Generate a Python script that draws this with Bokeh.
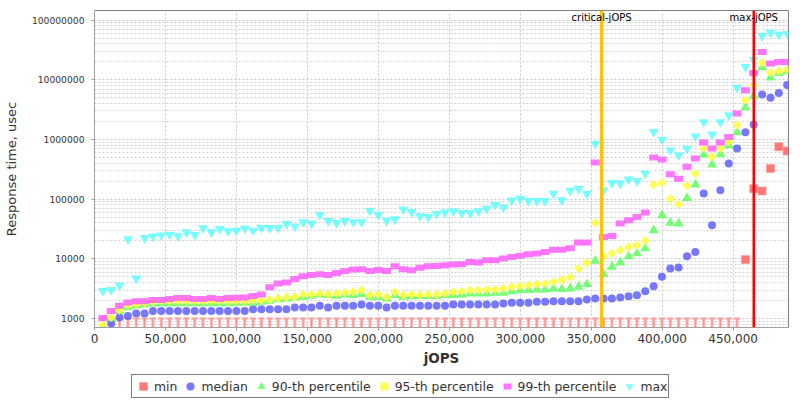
from bokeh.plotting import figure
from bokeh.layouts import column
from bokeh.models import (Range1d, FixedTicker, NumeralTickFormatter, Span, Label,
                          Legend, LegendItem, ColumnDataSource)
from bokeh.embed import file_html
from bokeh.resources import INLINE

# ---------------- data ----------------
jops = [5880, 11760, 17640, 23520, 29400, 35280, 41160, 47040, 52920, 58800,
        64680, 70560, 76440, 82320, 88200, 94080, 99960, 105840, 111720, 117600,
        123480, 129360, 135240, 141120, 147000, 152880, 158760, 164640, 170520, 176400,
        182280, 188160, 194040, 199920, 205800, 211680, 217560, 223440, 229320, 235200,
        241080, 246960, 252840, 258720, 264600, 270480, 276360, 282240, 288120, 294000,
        299880, 305760, 311640, 317520, 323400, 329280, 335160, 341040, 346920, 352800,
        358680, 364560, 370440, 376320, 382200, 388080, 393960, 399840, 405720, 411600,
        417480, 423360, 429240, 435120, 441000, 446880, 452760, 458640, 464520, 470400,
        476280, 482160, 488040]

rt_min = [1000] * 77 + [9700, 150000, 137000, 326000, 752000, 640000]

rt_median = [600, 825, 1040, 1100, 1210, 1210, 1330, 1330, 1330, 1330,
             1330, 1330, 1330, 1330, 1330, 1330, 1330, 1330, 1430, 1430,
             1430, 1430, 1430, 1530, 1530, 1530, 1630, 1530, 1630, 1630,
             1630, 1715, 1630, 1630, 1530, 1630, 1630, 1630, 1630, 1630,
             1630, 1630, 1715, 1715, 1715, 1715, 1715, 1715, 1780, 1830,
             1830, 1830, 1900, 1900, 1950, 1950, 1950, 1950, 2080, 2160,
             2160, 2160, 2250, 2360, 2460, 2860, 3480, 4980, 6870, 7150,
             11000, 13000, 124000, 36600, 141000, 394000, 705000, 1320000, 1780000, 5650000,
             5000000, 6000000, 8150000]

rt_p90 = [740, 1000, 1330, 1530, 1650, 1720, 1780, 1800, 1800, 1800,
          1800, 1800, 1800, 1800, 1800, 1800, 1830, 1830, 1830, 1900,
          1970, 2100, 2160, 2250, 2300, 2390, 2520, 2460, 2390, 2520,
          2460, 2550, 2300, 2300, 2160, 2460, 2300, 2360, 2360, 2360,
          2360, 2460, 2460, 2520, 2620, 2620, 2620, 2680, 2680, 2860,
          2980, 2980, 3060, 3060, 3180, 3100, 3180, 3390, 3760, 9230,
          5530, 7330, 8670, 11000, 12300, 14900, 30000, 53500, 40000, 39000,
          104000, 175000, 560000, 380000, 566000, 800000, 1320000, 3450000, 5300000, 16100000,
          10900000, 13000000, 13900000]

rt_p95 = [780, 1040, 1380, 1670, 1740, 1830, 1900, 1950, 1950, 1950,
          1950, 1950, 1950, 1950, 1950, 1950, 1950, 1950, 2000, 2030,
          2080, 2160, 2250, 2300, 2520, 2520, 2620, 2520, 2620, 2720,
          2790, 2980, 2460, 2520, 2300, 2790, 2460, 2520, 2460, 2520,
          2520, 2620, 2790, 2860, 2980, 2980, 3060, 3060, 3180, 3390,
          3480, 3610, 3760, 3860, 4110, 4400, 4900, 6870, 8560, 40000,
          11000, 12300, 13900, 15800, 16900, 20000, 175000, 187000, 102000, 82000,
          169000, 268000, 705000, 510000, 705000, 908000, 1740000, 4540000, 8150000, 19200000,
          13200000, 13900000, 14800000]

rt_p99 = [1020, 1330, 1630, 1850, 1950, 1950, 2050, 2050, 2130, 2210,
          2210, 2130, 2130, 2210, 2130, 2210, 2230, 2250, 2380, 2520,
          3350, 3850, 4000, 4610, 5080, 5350, 5530, 5350, 5810, 6270,
          6620, 6700, 6270, 6500, 6270, 7500, 6700, 6440, 7050, 7500,
          7600, 7800, 8020, 8120, 8880, 8670, 9470, 9470, 10100, 10700,
          11200, 11900, 12300, 13000, 14200, 14200, 15000, 18800, 18800, 410000,
          23300, 24200, 39000, 44300, 50400, 59500, 498000, 463000, 262000, 220000,
          348000, 480000, 887000, 705000, 887000, 1100000, 2720000, 6670000, 13000000, 29200000,
          18700000, 19900000, 19900000]

rt_max = [2900, 3000, 3600, 21300, 4700, 22400, 23700, 24800, 25500, 23900,
          27900, 25100, 32600, 27900, 31700, 29000, 29800, 32500, 29800, 33000,
          33000, 33000, 38500, 35000, 41000, 39200, 54500, 43300, 40000, 43200,
          41000, 41300, 64000, 55000, 43500, 46000, 67500, 61000, 52000, 50400,
          56800, 60000, 63000, 58700, 58700, 62800, 69600, 80000, 73000, 95000,
          102000, 93500, 93500, 93500, 124000, 96000, 139000, 150000, 124000, 853000,
          141000, 187000, 183000, 215000, 202000, 268000, 1340000, 995000, 659000, 543000,
          705000, 1130000, 1960000, 1220000, 1960000, 2540000, 7400000, 16400000, 21800000, 54200000,
          61800000, 57200000, 59000000]

critical_jops = 357300
max_jops = 464520

series_names = ["min", "median", "90-th percentile", "95-th percentile", "99-th percentile", "max"]
x_ticks = [0, 50000, 100000, 150000, 200000, 250000, 300000, 350000, 400000, 450000]
y_ticks = [1000, 10000, 100000, 1000000, 10000000, 100000000]

# ---------------- styles ----------------
FONT = "DejaVu Sans"
ALPHA = 0.8
STYLES = [
    dict(marker="square", size=8, fill_color="#FF5555", fill_alpha=ALPHA, line_color="#FF9999", line_alpha=0.6),
    dict(marker="circle", size=8, fill_color="#5555FF", fill_alpha=ALPHA, line_color=None),
    dict(marker="triangle", size=10, fill_color="#55FF55", fill_alpha=ALPHA, line_color=None),
    dict(marker="square", size=6.5, angle=0.785398, fill_color="#FFFF44", fill_alpha=0.9, line_color=None),
    dict(marker="dash", size=9, line_color="#FF55FF", line_alpha=ALPHA, line_width=6, line_cap="butt"),
    dict(marker="inverted_triangle", size=10, fill_color="#55FFFF", fill_alpha=ALPHA, line_color=None),
]

# ---------------- main figure ----------------
x_lo, x_hi = 0, 489000
y_lo, y_hi = 706, 1.45e8

p = figure(frame_width=694, frame_height=317, y_axis_type="log",
           x_range=Range1d(x_lo, x_hi), y_range=Range1d(y_lo, y_hi),
           output_backend="svg", toolbar_location=None,
           min_border_left=94, min_border_right=12, min_border_top=10, min_border_bottom=42)
p.background_fill_color = "white"
p.border_fill_color = "white"
p.outline_line_color = "#808080"
p.outline_line_width = 1

p.xaxis.ticker = FixedTicker(ticks=x_ticks)
p.xaxis.formatter = NumeralTickFormatter(format="0,0")
minor_y = [m * 10 ** e for e in range(2, 9) for m in range(2, 10)]
p.yaxis.ticker = FixedTicker(ticks=y_ticks, minor_ticks=minor_y)
p.yaxis.formatter = NumeralTickFormatter(format="0")

for ax in (p.xaxis[0], p.yaxis[0]):
    ax.axis_line_color = "#a0a0a0"
    ax.major_tick_line_color = "#a0a0a0"
    ax.major_tick_in = 0
    ax.major_tick_out = 3
    ax.minor_tick_line_color = None
    ax.major_label_text_font = FONT
    ax.major_label_text_color = "#333333"
    ax.axis_label_text_font = FONT
    ax.axis_label_text_color = "#333333"

p.xaxis.major_label_text_font_size = "12px"
p.xaxis.major_label_standoff = 3
p.xaxis.axis_label = "jOPS"
p.xaxis.axis_label_text_font_size = "13.5px"
p.xaxis.axis_label_text_font_style = "bold"
p.xaxis.axis_label_standoff = 4

p.yaxis.major_label_text_font_size = "9.2px"
p.yaxis.major_label_standoff = 6
p.yaxis.axis_label = "Response time, usec"
p.yaxis.axis_label_text_font_size = "13px"
p.yaxis.axis_label_text_font_style = "normal"
p.yaxis.axis_label_standoff = 10

p.xgrid.grid_line_color = "#c8c8c8"
p.xgrid.grid_line_dash = "2 2"
p.ygrid.grid_line_color = "#c8c8c8"
p.ygrid.grid_line_dash = "2 2"
p.ygrid.minor_grid_line_color = "#d0d0d0"
p.ygrid.minor_grid_line_dash = "2 2"

# min series: values at the floor are drawn as a pin down to the axis, the rest as squares
idx_t = [i for i, v in enumerate(rt_min) if v <= 1000]
idx_s = [i for i, v in enumerate(rt_min) if v > 1000]
src_t = ColumnDataSource(dict(x=[jops[i] for i in idx_t], y=[rt_min[i] for i in idx_t],
                              y0=[y_lo] * len(idx_t)))
p.segment(x0="x", y0="y", x1="x", y1="y0", source=src_t, line_color="#FFB4B4", line_width=3)
p.segment(x0="x", y0="y", x1="x", y1="y0", source=src_t, line_color="#FF8C8C", line_width=1)
p.scatter(x="x", y="y", source=src_t, marker="dash", size=6, line_color="#FF9C9C", line_width=2)
p.scatter([jops[i] for i in idx_s], [rt_min[i] for i in idx_s], **STYLES[0])

all_series = [rt_min, rt_median, rt_p90, rt_p95, rt_p99, rt_max]
for vals, st in zip(all_series[1:], STYLES[1:]):
    p.scatter(jops, vals, **st)

p.add_layout(Span(location=critical_jops, dimension="height", line_color="#FFC000", line_width=3))
p.add_layout(Span(location=max_jops, dimension="height", line_color="#FF0000", line_width=2.5))
label_y = 1.1e8
p.add_layout(Label(x=critical_jops, y=label_y, text="critical-jOPS", text_align="center",
                   text_baseline="middle", text_font=FONT, text_font_size="10px", text_color="black"))
p.add_layout(Label(x=max_jops, y=label_y, text="max-jOPS", text_align="center",
                   text_baseline="middle", text_font=FONT, text_font_size="10px", text_color="black"))

# ---------------- legend strip (its renderers hold one real point each, outside its view) ----------------
lg = figure(width=800, height=31, output_backend="svg", toolbar_location=None,
            x_range=Range1d(-2, -1), y_range=Range1d(-2, -1), min_border=0)
lg.axis.visible = False
lg.grid.visible = False
lg.outline_line_color = None
lg.background_fill_color = "white"
lg.border_fill_color = "white"

items = []
for name, vals, st in zip(series_names, all_series, STYLES):
    r = lg.scatter(x=[jops[-1]], y=[vals[-1]], **st)
    items.append(LegendItem(label=name, renderers=[r]))

legend = Legend(items=items, orientation="horizontal", location=(37, 2))
legend.margin = 0
legend.padding = 1
legend.spacing = 3
legend.glyph_width = 20
legend.glyph_height = 20
legend.label_standoff = 1
legend.label_height = 20
legend.label_text_font = FONT
legend.label_text_font_size = "12.4px"
legend.label_text_color = "#333333"
legend.border_line_color = "black"
legend.border_line_width = 1
legend.background_fill_color = "white"
legend.background_fill_alpha = 1
lg.add_layout(legend, "center")

layout = column(p, lg, spacing=0)
open("out.html", "w").write(file_html(layout, INLINE))
